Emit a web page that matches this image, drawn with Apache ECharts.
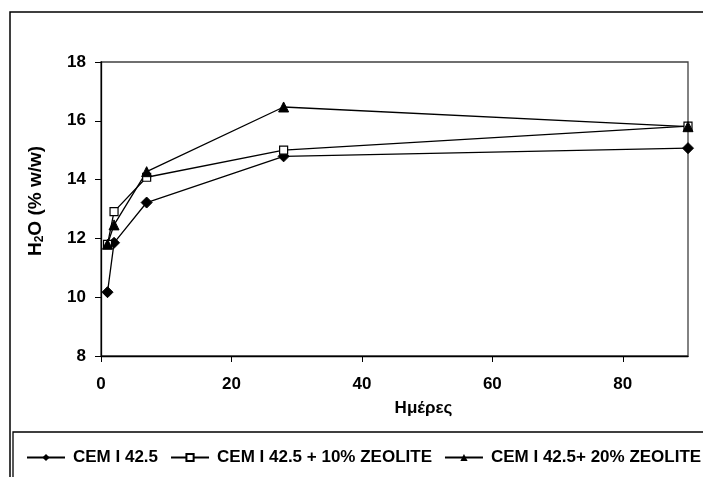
<!DOCTYPE html>
<html>
<head>
<meta charset="utf-8">
<script src="https://cdn.jsdelivr.net/npm/echarts@6/dist/echarts.min.js"></script>
<style>
  html, body { margin: 0; padding: 0; background: #fff; }
  #chart { width: 703px; height: 477px; }
</style>
</head>
<body>
<div id="chart"></div>
<script>
// days
var days = [1, 2, 7, 28, 90];
// H2O % w/w
var cem = [10.17, 11.85, 13.22, 14.79, 15.07];
var zeo10 = [11.8, 12.91, 14.08, 15.0, 15.82];
var zeo20 = [11.8, 12.46, 14.27, 16.47, 15.8];
var seriesNames = ['CEM I 42.5', 'CEM I 42.5 + 10% ZEOLITE', 'CEM I 42.5+ 20% ZEOLITE'];

function pairs(ys) {
    return days.map(function (d, i) { return [d, ys[i]]; });
}

var font = 'Arial, "Liberation Sans", sans-serif';
var chart = echarts.init(document.getElementById('chart'));

var option = {
    backgroundColor: '#fff',
    animation: false,
    textStyle: { fontFamily: font },
    grid: {
        left: 101, top: 62, right: 15, bottom: 121,
        show: true, borderColor: '#404040', borderWidth: 1.3
    },
    graphic: [
        { type: 'rect', shape: { x: 10, y: 12, width: 720, height: 500 },
          style: { fill: null, stroke: '#000', lineWidth: 1.5 }, silent: true },
        { type: 'rect', shape: { x: 13, y: 432, width: 720, height: 80 },
          style: { fill: null, stroke: '#000', lineWidth: 1.3 }, silent: true }
    ],
    legend: {
        left: 26, top: 449, width: 700, padding: 0,
        itemWidth: 38, itemHeight: 9, itemGap: 12,
        data: seriesNames,
        textStyle: { fontFamily: font, fontWeight: 'bold', fontSize: 17, color: '#000', padding: [0, 0, 0, 3] }
    },
    xAxis: {
        type: 'value', min: 0, max: 90, interval: 20,
        name: 'Ημέρες', nameLocation: 'middle', nameGap: 44,
        nameTextStyle: { fontFamily: font, fontWeight: 'bold', fontSize: 17, color: '#000', padding: [0, 0, 0, 58] },
        axisLine: { lineStyle: { color: '#000', width: 1.3 } },
        axisTick: { inside: false, length: 6, lineStyle: { color: '#000' } },
        axisLabel: { showMaxLabel: false, margin: 20, fontFamily: font, fontWeight: 'bold', fontSize: 17, color: '#000' },
        splitLine: { show: false }
    },
    yAxis: {
        type: 'value', min: 8, max: 18, interval: 2,
        name: '{a|H}{s|2}{a|O (% w/w)}', nameLocation: 'middle', nameGap: 55,
        nameTextStyle: {
            padding: [0, 0, 0, 16],
            rich: {
                a: { fontFamily: font, fontWeight: 'bold', fontSize: 19, color: '#000' },
                s: { fontFamily: font, fontWeight: 'bold', fontSize: 12, color: '#000', verticalAlign: 'bottom', padding: [9, 0, 0, 0] }
            }
        },
        axisLine: { lineStyle: { color: '#000', width: 1.3 } },
        axisTick: { inside: false, length: 6, lineStyle: { color: '#000' } },
        axisLabel: { margin: 15, fontFamily: font, fontWeight: 'bold', fontSize: 17, color: '#000' },
        splitLine: { show: false }
    },
    series: [
        {
            name: seriesNames[0], type: 'line', data: pairs(cem),
            symbol: 'diamond', symbolSize: 11,
            lineStyle: { color: '#000', width: 1.3 },
            itemStyle: { color: '#000', borderColor: '#000' }
        },
        {
            name: seriesNames[1], type: 'line', data: pairs(zeo10),
            symbol: 'rect', symbolSize: 8,
            lineStyle: { color: '#000', width: 1.3 },
            itemStyle: { color: '#fff', borderColor: '#000', borderWidth: 1.2 }
        },
        {
            name: seriesNames[2], type: 'line', data: pairs(zeo20),
            symbol: 'triangle', symbolSize: 10,
            lineStyle: { color: '#000', width: 1.3 },
            itemStyle: { color: '#000', borderColor: '#000' }
        }
    ]
};

chart.setOption(option);
window.addEventListener('resize', function () { chart.resize(); });
</script>
</body>
</html>
